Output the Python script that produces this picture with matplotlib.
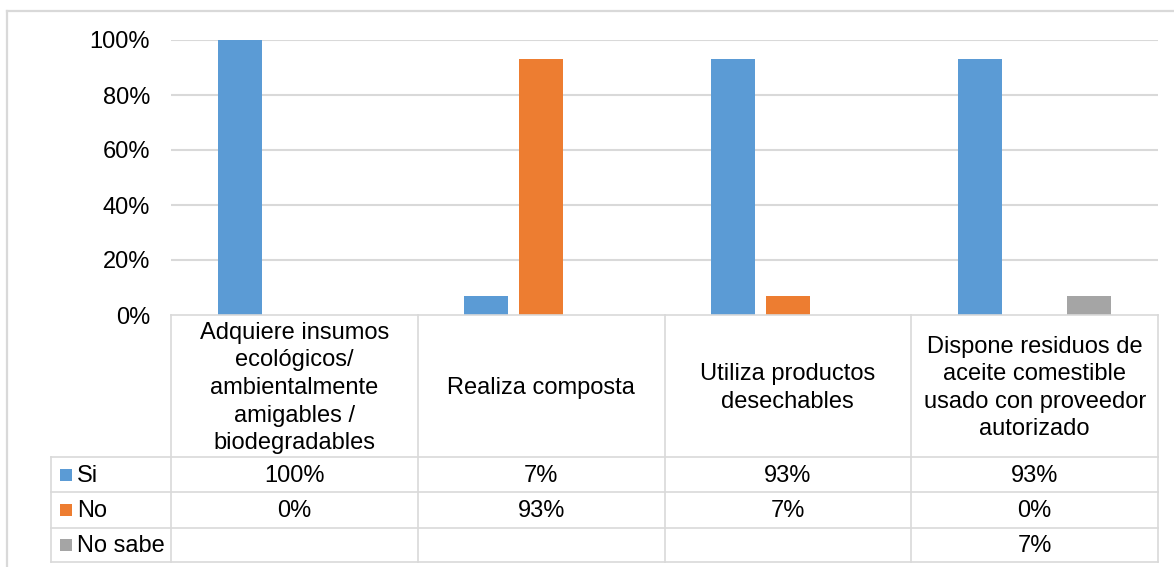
import numpy as np
import matplotlib
matplotlib.use('Agg')
import matplotlib.pyplot as plt
from matplotlib.lines import Line2D
from matplotlib.patches import Rectangle

plt.rcParams.update({'font.family': ['Liberation Sans', 'DejaVu Sans'], 'font.size': 17})

categories = ['Adquiere insumos\necológicos/\nambientalmente\namigables /\nbiodegradables',
              'Realiza composta',
              'Utiliza productos\ndesechables',
              'Dispone residuos de\naceite comestible\nusado con proveedor\nautorizado']
series = ['Si', 'No', 'No sabe']
si = [100, 7, 93, 93]
no = [0, 93, 7, 0]
no_sabe = [np.nan, np.nan, np.nan, 7]
yticks = [0, 20, 40, 60, 80, 100]
COLORS = ['#5b9bd5', '#ed7d31', '#a5a5a5']
GRID = '#d9d9d9'

W, H = 1174, 567
fig = plt.figure(figsize=(W / 100, H / 100), dpi=100)


def px(x, y):
    return x / W, 1 - y / H


# chart area ------------------------------------------------------------------
left, top, right, bottom = 171, 40, 1158, 315
ax = fig.add_axes([left / W, 1 - bottom / H, (right - left) / W, (bottom - top) / H])
x = np.arange(len(categories))
offsets = [-0.222, 0, 0.222]
for vals, off, c in zip([si, no, no_sabe], offsets, COLORS):
    ax.bar(x + off, vals, width=0.178, color=c, zorder=3)
ax.set_xlim(-0.5, len(categories) - 0.5)
ax.set_ylim(0, 100)
ax.set_yticks(yticks)
ax.set_yticklabels([f'{v}%' for v in yticks])
ax.set_xticks([])
ax.tick_params(axis='y', length=0, pad=15)
for s in ax.spines.values():
    s.set_visible(False)
for v in yticks[1:]:
    ax.axhline(v, color=GRID, lw=1.5, zorder=1)

# outer border ----------------------------------------------------------------
fig.add_artist(Line2D([7 / W, 7 / W], [1 - 11 / H, 0], transform=fig.transFigure, color=GRID, lw=1.6))
fig.add_artist(Line2D([7 / W, 1], [1 - 11 / H, 1 - 11 / H], transform=fig.transFigure, color=GRID, lw=1.6))

# data table ------------------------------------------------------------------
n = len(categories)
col_edges = [left + i * (right - left) / n for i in range(n + 1)]
row_edges = [bottom, 457, 492, 528, 562]
label_x = 51


def hline(x0, x1, y):
    fig.add_artist(Line2D([x0 / W, x1 / W], [1 - y / H, 1 - y / H], transform=fig.transFigure,
                          color=GRID, lw=1.2))


def vline(xp, y0, y1):
    fig.add_artist(Line2D([xp / W, xp / W], [1 - y0 / H, 1 - y1 / H], transform=fig.transFigure,
                          color=GRID, lw=1.2))


hline(left, right, row_edges[0])
for y in row_edges[1:]:
    hline(label_x, right, y)
vline(label_x, row_edges[1], row_edges[-1])
for xe in col_edges:
    vline(xe, row_edges[0], row_edges[-1])

for i, cat in enumerate(categories):
    cx = (col_edges[i] + col_edges[i + 1]) / 2
    cy = (row_edges[0] + row_edges[1]) / 2
    fig.text(*px(cx, cy + 2), cat, ha='center', va='center', ma='center', linespacing=1.33)

for r, (name, vals, c) in enumerate(zip(series, [si, no, no_sabe], COLORS)):
    cy = (row_edges[r + 1] + row_edges[r + 2]) / 2
    fig.add_artist(Rectangle(px(60, cy + 6), 12 / W, 12 / H, transform=fig.transFigure,
                             color=c, lw=0))
    fig.text(*px(77, cy + 1), name, ha='left', va='center')
    for i, v in enumerate(vals):
        if np.isnan(v):
            continue
        cx = (col_edges[i] + col_edges[i + 1]) / 2
        fig.text(*px(cx, cy + 1), f'{v:.0f}%', ha='center', va='center')

fig.savefig('out.png', dpi=100)
